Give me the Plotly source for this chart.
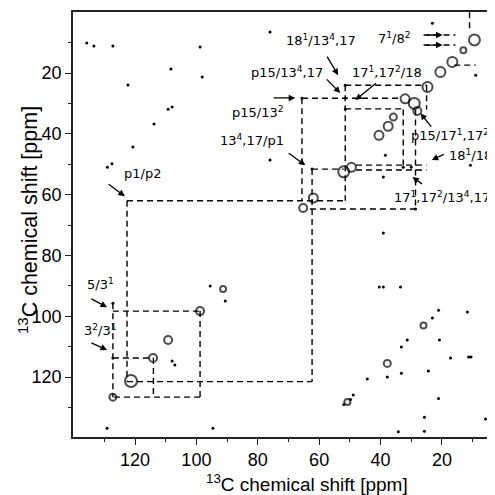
import plotly.graph_objects as go

# ---------------- data (ppm) ----------------
# contour-type peaks (open outlines): x, y, size
contour_x = [9.4, 13.0, 16.6, 20.5, 24.7, 29.0, 32.0, 28.0, 35.8, 37.5, 40.5,
             52.0, 49.5, 61.9, 65.2,
             98.8, 109.2, 114.1, 127.2, 121.3, 91.3, 26.0, 37.8, 50.8]
contour_y = [9.1, 12.5, 16.4, 19.7, 24.6, 30.0, 28.5, 32.5, 34.5, 37.5, 40.5,
             52.5, 51.0, 61.1, 64.4,
             98.3, 107.8, 113.7, 126.6, 121.3, 91.0, 103.0, 115.5, 128.2]
contour_s = [11, 6, 10, 10, 10, 11, 9, 8, 7, 9, 9,
             11, 9, 9, 8,
             8, 8, 8, 7, 12, 6, 6, 7, 6]

# small cross-peaks / noise peaks (filled dots)
dot_x = [135.7, 133.4, 127.2, 98.8, 108.3, 98.1, 122.3, 107.9, 109.2, 113.8, 120.7, 127.5, 129.0,
         76.0, 23.1, 65.6, 51.5, 51.5, 51.5, 38.4, 39.1, 10.7, 76.0, 39.1, 9.0, 62.3, 32.6, 30.0, 28.6,
         95.5, 90.6, 107.9, 107.0, 129.1, 94.6, 127.2, 127.2,
         39.1, 40.4, 33.5, 21.1, 11.7, 23.1, 31.3, 33.2, 20.8, 17.2, 11.3, 10.5, 33.2, 37.8,
         24.4, 44.3, 49.8, 52.0, 48.9, 21.1, 25.7, 5.8, 25.7, 34.2]
dot_y = [10.1, 11.1, 11.1, 11.4, 18.7, 21.3, 23.9, 31.2, 31.9, 36.8, 44.3, 49.8, 51.0,
         6.5, 3.6, 28.3, 24.0, 28.2, 31.8, 47.0, 54.2, 50.3, 48.6, 72.6, 20.7, 51.6, 51.0, 51.0, 64.7,
         90.0, 95.0, 114.7, 116.0, 136.8, 136.8, 95.7, 113.7,
         90.4, 90.4, 90.4, 98.0, 98.6, 100.6, 107.8, 110.1, 107.8, 113.7, 113.4, 113.4, 118.7, 120.0,
         118.0, 120.6, 127.4, 129.0, 125.9, 127.0, 133.2, 133.8, 137.8, 138.0]

# dashed correlation lines: (x0, y0, x1, y1) in ppm
seg_x0 = [122.6, 122.6, 122.6, 62.3, 65.6, 65.6, 62.3, 51.5, 51.5, 25.0, 51.5, 32.6, 28.6, 63.0,
          48.0, 48.0, 127.2, 98.8, 98.8, 127.2, 127.2, 114.0, 26.0, 26.0, 11.0, 16.0]
seg_y0 = [62.0, 62.0, 121.5, 51.6, 28.3, 28.3, 51.6, 24.0, 24.0, 24.0, 31.8, 32.0, 32.0, 64.7,
          50.3, 51.9, 98.3, 98.3, 126.6, 95.7, 113.7, 113.7, 7.5, 10.8, 0.0, 17.4]
seg_x1 = [51.5, 122.6, 62.3, 62.3, 65.6, 33.0, 52.0, 51.5, 25.0, 25.0, 33.0, 32.6, 28.6, 28.6,
          25.0, 25.0, 98.8, 98.8, 127.2, 127.2, 114.0, 114.0, 15.6, 15.6, 11.0, 9.0]
seg_y1 = [62.0, 121.5, 121.5, 121.5, 62.0, 28.3, 51.6, 62.0, 24.0, 32.0, 31.8, 51.0, 64.7, 64.7,
          50.3, 51.9, 98.3, 126.6, 126.6, 126.6, 113.7, 126.6, 7.5, 10.8, 6.0, 17.4]

# assignment labels
labels = ["p1/p2", "18<sup>1</sup>/13<sup>4</sup>,17", "7<sup>1</sup>/8<sup>2</sup>",
          "p15/13<sup>4</sup>,17", "17<sup>1</sup>,17<sup>2</sup>/18", "p15/13<sup>2</sup>",
          "13<sup>4</sup>,17/p1", "p15/17<sup>1</sup>,17<sup>2</sup>", "18<sup>1</sup>/18",
          "17<sup>1</sup>,17<sup>2</sup>/13<sup>4</sup>,17", "5/3<sup>1</sup>", "3<sup>2</sup>/3<sup>1</sup>"]
label_x = [117.7, 59.3, 35.5, 70.4, 37.8, 79.9, 81.8, 30.6, 18.2, 36.4, 131.4, 131.4]
label_y = [52.9, 9.1, 8.5, 19.7, 19.7, 32.8, 42.0, 40.4, 47.0, 60.8, 89.4, 104.5]
label_anchor = ["center"] * 7 + ["left", "left", "left", "center", "center"]

# arrows: tail -> head (ppm)
arr_tx = [129.1, 57.7, 25.4, 25.4, 58.0, 41.0, 75.3, 70.4, 23.1, 18.9, 26.0, 134.7, 134.7]
arr_ty = [56.2, 14.1, 7.5, 10.8, 21.6, 23.0, 28.2, 46.0, 38.1, 46.5, 56.8, 94.0, 108.5]
arr_hx = [123.3, 53.8, 19.8, 19.8, 53.1, 48.2, 67.8, 64.5, 27.0, 23.3, 29.6, 129.1, 129.1]
arr_hy = [60.5, 20.7, 7.5, 10.8, 26.6, 28.9, 28.2, 50.3, 33.2, 48.6, 54.2, 97.0, 111.1]

major_ticks = [20, 40, 60, 80, 100, 120]
minor_ticks = [10, 30, 50, 70, 90, 110, 130]

# ---------------- figure ----------------
fig = go.Figure()

# dashed lines
for x0, y0, x1, y1 in zip(seg_x0, seg_y0, seg_x1, seg_y1):
    fig.add_trace(go.Scatter(x=[x0, x1], y=[y0, y1], mode="lines",
                             line=dict(color="black", width=1.4, dash="6px,4px"),
                             hoverinfo="skip", showlegend=False))

fig.add_trace(go.Scatter(x=contour_x, y=contour_y, mode="markers",
                         marker=dict(symbol="circle-open", size=contour_s,
                                     color="black", line=dict(width=2)),
                         showlegend=False))
fig.add_trace(go.Scatter(x=dot_x, y=dot_y, mode="markers",
                         marker=dict(symbol="circle", size=3, color="black"),
                         showlegend=False))

for t, x, y, a in zip(labels, label_x, label_y, label_anchor):
    fig.add_annotation(x=x, y=y, xref="x", yref="y", text=t, showarrow=False,
                       xanchor=a, yanchor="middle",
                       font=dict(family="DejaVu Sans", size=13, color="black"))

for tx, ty, hx, hy in zip(arr_tx, arr_ty, arr_hx, arr_hy):
    fig.add_annotation(x=hx, y=hy, ax=tx, ay=ty, xref="x", yref="y",
                       axref="x", ayref="y", text="", showarrow=True,
                       arrowhead=2, arrowsize=1, arrowwidth=1.3, arrowcolor="black")

# axis titles
fig.add_annotation(x=0.555, y=-0.108, xref="paper", yref="paper",
                   text="<sup>13</sup>C chemical shift [ppm]", showarrow=False,
                   xanchor="center", yanchor="middle",
                   font=dict(family="Liberation Sans", size=19, color="black"))
fig.add_annotation(x=-0.107, y=0.51, xref="paper", yref="paper",
                   text="<sup>13</sup>C chemical shift [ppm]", showarrow=False,
                   textangle=-90, xanchor="center", yanchor="middle",
                   font=dict(family="Liberation Sans", size=21.5, color="black"))

axis_common = dict(showgrid=False, zeroline=False, showline=True, linecolor="#222",
                   linewidth=1.5, ticks="outside", ticklen=6, tickwidth=1.3,
                   tickcolor="#222", tickvals=major_ticks,
                   tickfont=dict(family="Liberation Sans", size=18, color="black"),
                   minor=dict(tickvals=minor_ticks, ticks="outside", ticklen=3,
                              tickcolor="#222", tickwidth=1))

fig.update_xaxes(range=[140.2, 2.7], mirror=True, **axis_common)
fig.update_yaxes(range=[139.7, -0.07], mirror=False, **axis_common)

# page body has an 8px margin: figure spans 8..495 in the window
fig.update_layout(width=487, height=487,
                  margin=dict(l=65, r=0, t=4, b=58),
                  plot_bgcolor="white", paper_bgcolor="white",
                  showlegend=False)

fig.write_html("out.html")
